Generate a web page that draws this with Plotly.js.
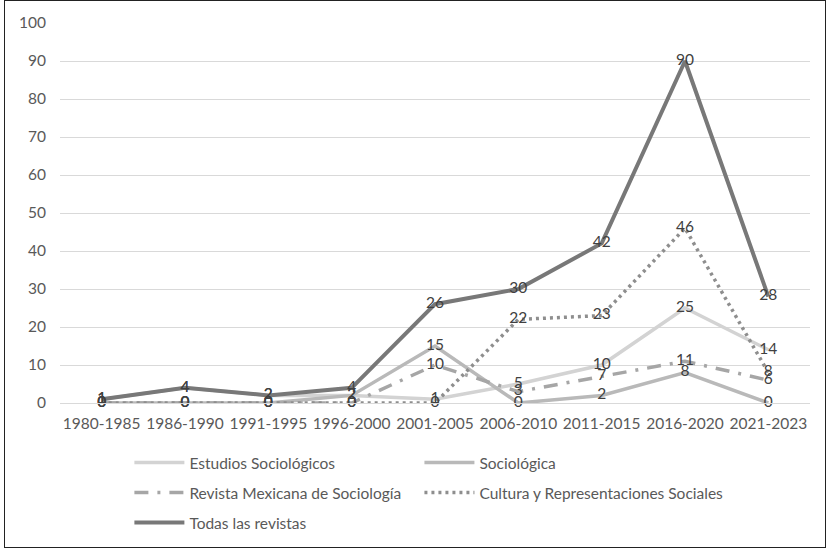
<!DOCTYPE html>
<html>
<head>
<meta charset="utf-8">
<script src="https://cdn.plot.ly/plotly-3.0.1.min.js"></script>
<style>
html,body{margin:0;padding:0;background:#fff;}
#chart{position:absolute;left:4px;top:0;width:822px;height:548px;border:1px solid #222;box-sizing:border-box;}
</style>
</head>
<body>
<div id="chart"></div>
<script>
const periods = ["1980-1985","1986-1990","1991-1995","1996-2000","2001-2005","2006-2010","2011-2015","2016-2020","2021-2023"];
const estudios = [1,4,2,2,1,5,10,25,14];
const sociologica = [0,0,0,2,15,0,2,8,0];
const revistaMexicana = [0,0,0,0,10,3,7,11,6];
const cultura = [0,0,0,0,0,22,23,46,8];
const todas = [1,4,2,4,26,30,42,90,28];

const seriesNames = ["Estudios Sociológicos","Sociológica","Revista Mexicana de Sociología","Cultura y Representaciones Sociales","Todas las revistas"];
const seriesValues = [estudios, sociologica, revistaMexicana, cultura, todas];
const seriesColors = ["#d3d3d3","#b9b9b9","#a6a6a6","#8e8e8e","#787878"];
const seriesDash = ["solid","solid","14px,9px,3px,9px","3px,4px","solid"];
const seriesWidth = [3.5,3.5,3.5,3.5,4];
const legendIds = ["legend","legend2","legend3","legend4","legend5"];

const FONT = "Lato, 'Open Sans', sans-serif";
const traces = [];
seriesNames.forEach((n,i)=>{
  traces.push({
    type:"scatter", mode:"lines", name:n, x:periods, y:seriesValues[i],
    line:{color:seriesColors[i], width:seriesWidth[i], dash:seriesDash[i]},
    legend:legendIds[i], hoverinfo:"skip"
  });
});
seriesNames.forEach((n,i)=>{
  traces.push({
    type:"scatter", mode:"text", name:n, x:periods, y:seriesValues[i],
    text:seriesValues[i].map(String), textposition:"middle center",
    textfont:{family:FONT, size:15.5, color:"#404040"},
    showlegend:false, hoverinfo:"skip", cliponaxis:false
  });
});

const legendCommon = {
  orientation:"h", xref:"container", yref:"container", xanchor:"left", yanchor:"middle",
  itemwidth:50,
  font:{family:FONT, size:15.5, color:"#595959"}, bgcolor:"rgba(0,0,0,0)", borderwidth:0
};
const colX = [0.1517, 0.5054];
const rowY = [1-462/546, 1-492/546, 1-522/546];
function lg(c,r){ return Object.assign({}, legendCommon, {x:colX[c], y:rowY[r]}); }

const layout = {
  width:820, height:546,
  margin:{l:55, r:15, t:22, b:144},
  paper_bgcolor:"#fff", plot_bgcolor:"#fff",
  font:{family:FONT, size:15.5, color:"#595959"},
  showlegend:true,
  xaxis:{type:"category", range:[-0.5,8.5], showgrid:false, showline:true, linecolor:"#d9d9d9", linewidth:1,
         ticks:"outside", ticklen:6, tickcolor:"rgba(0,0,0,0)", tickfont:{family:FONT,size:15.5,color:"#595959"}, zeroline:false, fixedrange:true},
  yaxis:{range:[0,100], dtick:10, tick0:0, showgrid:true, gridcolor:"#d9d9d9", gridwidth:1, zeroline:false, showline:false,
         ticks:"outside", ticklen:10, tickcolor:"rgba(0,0,0,0)", tickfont:{family:FONT,size:15.5,color:"#595959"}, fixedrange:true},
  legend: lg(0,0),
  legend2: lg(1,0),
  legend3: lg(0,1),
  legend4: lg(1,1),
  legend5: lg(0,2)
};

Plotly.newPlot("chart", traces, layout, {displayModeBar:false, staticPlot:true});
</script>
</body>
</html>
